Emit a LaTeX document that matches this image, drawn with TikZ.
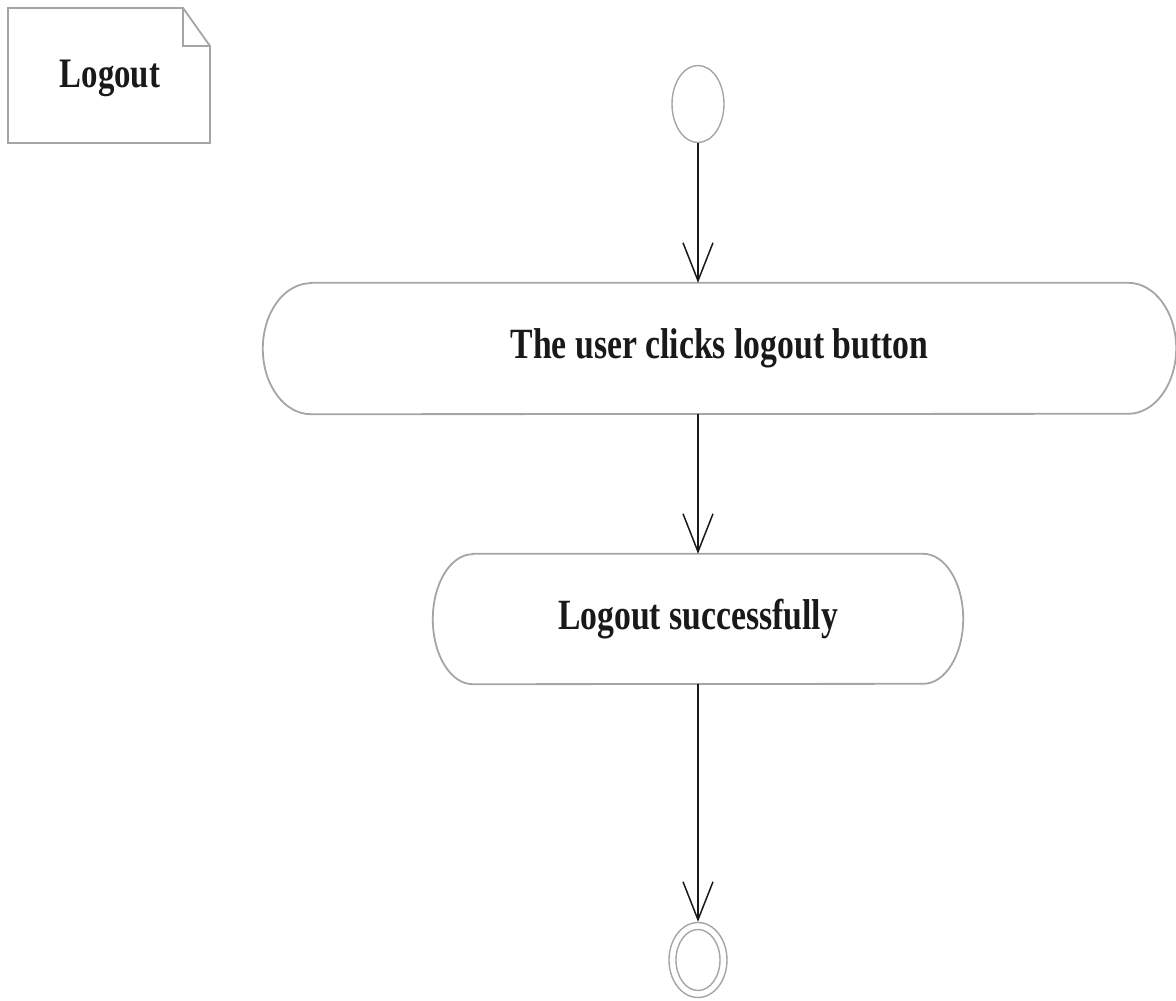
\documentclass[tikz,border=0pt]{standalone}
\usepackage{fontspec}
\setmainfont{Liberation Serif}
\usetikzlibrary{shapes.geometric,arrows.meta,calc}
\definecolor{edgegray}{RGB}{165,165,165}
\definecolor{inkdark}{RGB}{25,25,25}
% bold labels set in a narrow, tall style
\newcommand{\tallText}[1]{\scalebox{1}[1.28]{#1}}
\tikzset{
  label text/.style={font=\fontsize{33.7}{40}\selectfont\bfseries, text=inkdark},
  startstop/.style={ellipse, draw=edgegray, line width=1.4pt, inner sep=0pt},
  flow/.style={draw=inkdark, line width=1.5pt,
    -{Straight Barb[length=38pt,width=30pt,line width=1.5pt]}},
  actline/.style={draw=edgegray, line width=1.8pt},
  notebody/.style={draw=edgegray, line width=1.8pt, line join=miter},
}
\begin{document}
\begin{tikzpicture}[x=1pt,y=-1pt]
\useasboundingbox (0,0) rectangle (1176,1001);

% note with folded corner
\draw[notebody] (8,8) -- (183,8) -- (210,46) -- (210,143) -- (8,143) -- cycle;
\draw[notebody] (183,8) -- (183,46) -- (210,46);
\node[label text, font=\fontsize{32.8}{40}\selectfont\bfseries] (note) at (110,78) {\tallText{Logout}};

% initial node
\node[startstop, minimum width=52pt, minimum height=77pt] (init) at (698,104) {};

% action 1
\node[label text, minimum width=913pt, minimum height=131pt, inner sep=0pt]
  (act1) at (719.5,348.5) {\tallText{The user clicks logout button}};
\draw[actline] ($(act1.north west)+(48,0)$) -- ($(act1.north east)+(-48,0)$)
  arc[start angle=90, end angle=-90, x radius=48pt, y radius=65.5pt]
  -- ($(act1.south west)+(48,0)$)
  arc[start angle=270, end angle=90, x radius=48pt, y radius=65.5pt] -- cycle;

% action 2
\node[label text, minimum width=530pt, minimum height=130pt, inner sep=0pt]
  (act2) at (698,619) {\tallText{Logout successfully}};
\draw[actline] ($(act2.north west)+(40,0)$) -- ($(act2.north east)+(-40,0)$)
  arc[start angle=90, end angle=-90, x radius=40pt, y radius=65pt]
  -- ($(act2.south west)+(40,0)$)
  arc[start angle=270, end angle=90, x radius=40pt, y radius=65pt] -- cycle;

% final node
\node[startstop, minimum width=58pt, minimum height=75pt] (final) at (698,960) {};
\node[startstop, minimum width=44pt, minimum height=61pt] (finalin) at (698,960) {};

% control flows
\draw[flow] (init.south) -- (init.south |- act1.north);
\draw[flow] (init |- act1.south) -- (act2.north);
\draw[flow] (act2.south) -- (final.north);
\end{tikzpicture}
\end{document}
